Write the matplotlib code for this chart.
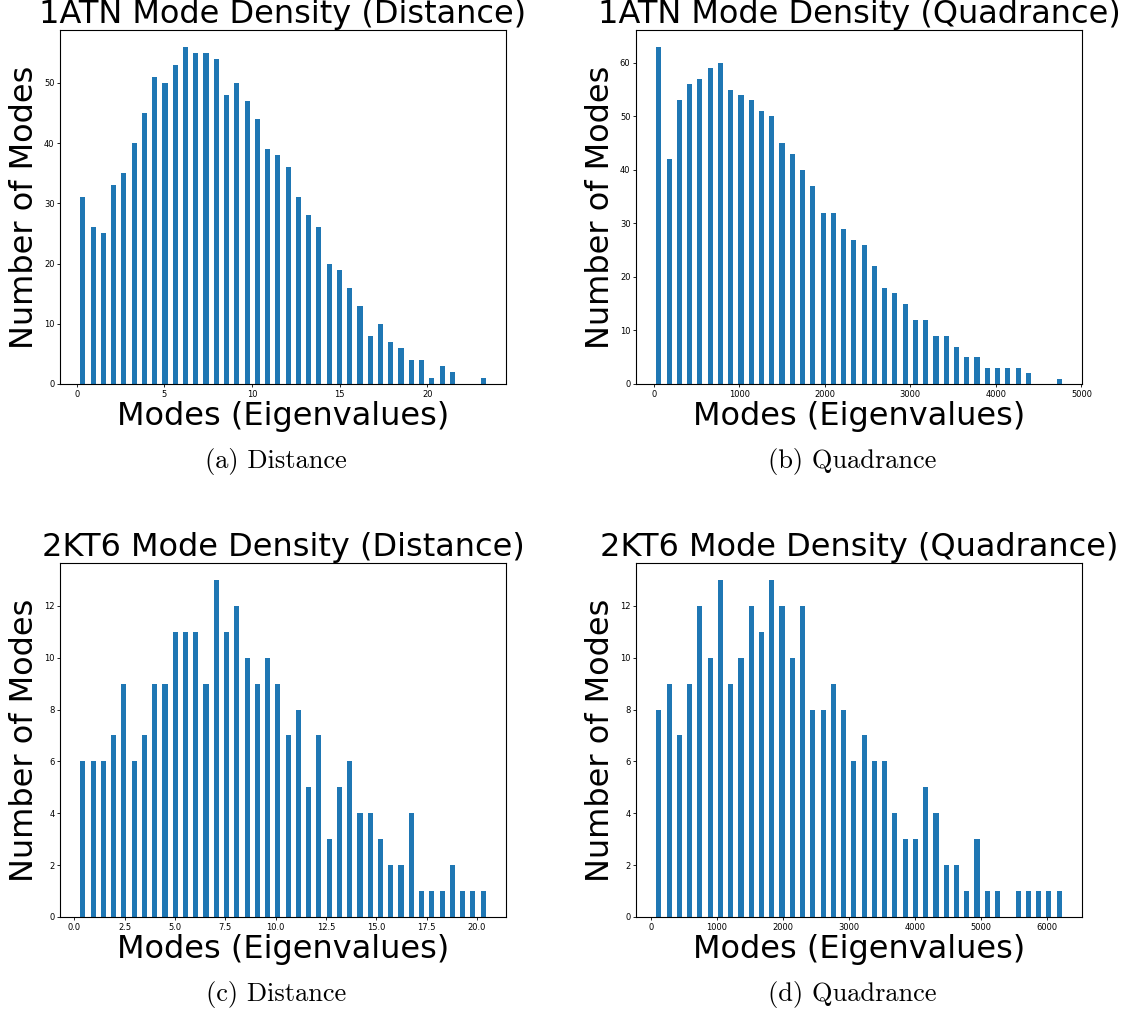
import numpy as np
import matplotlib
matplotlib.use("Agg")
import matplotlib.pyplot as plt

# ---- data ----
titles = ["1ATN Mode Density (Distance)", "1ATN Mode Density (Quadrance)",
          "2KT6 Mode Density (Distance)", "2KT6 Mode Density (Quadrance)"]
captions = ["(a) Distance", "(b) Quadrance", "(c) Distance", "(d) Quadrance"]

counts_1atn_dist = [31, 26, 25, 33, 35, 40, 45, 51, 50, 53, 56, 55, 55, 54, 48, 50, 47, 44, 39, 38,
                    36, 31, 28, 26, 20, 19, 16, 13, 8, 10, 7, 6, 4, 4, 1, 3, 2, 0, 0, 1]
range_1atn_dist = (0.06, 23.48)

counts_1atn_quad = [63, 42, 53, 56, 57, 59, 60, 55, 54, 53, 51, 50, 45, 43, 40, 37, 32, 32, 29, 27,
                    26, 22, 18, 17, 15, 12, 12, 9, 9, 7, 5, 5, 3, 3, 3, 3, 2, 0, 0, 1]
range_1atn_quad = (0.0, 4800.0)

counts_2kt6_dist = [6, 6, 6, 7, 9, 6, 7, 9, 9, 11, 11, 11, 9, 13, 11, 12, 10, 9, 10, 9,
                    7, 8, 5, 7, 3, 5, 6, 4, 4, 3, 2, 2, 4, 1, 1, 1, 2, 1, 1, 1]
range_2kt6_dist = (0.17, 20.57)

counts_2kt6_quad = [8, 9, 7, 9, 12, 10, 13, 9, 10, 12, 11, 13, 12, 10, 12, 8, 8, 9, 8, 6,
                    7, 6, 6, 4, 3, 3, 5, 4, 2, 2, 1, 3, 1, 1, 0, 1, 1, 1, 1, 1]
range_2kt6_quad = (41.0, 6261.0)

all_counts = [counts_1atn_dist, counts_1atn_quad, counts_2kt6_dist, counts_2kt6_quad]
all_ranges = [range_1atn_dist, range_1atn_quad, range_2kt6_dist, range_2kt6_quad]
n_bins = 40

xlabel = "Modes (Eigenvalues)"
ylabel = "Number of Modes"

# ---- layout (pixels in a 1128x1014 figure) ----
W, H = 1128, 1014
fig = plt.figure(figsize=(W / 100, H / 100), dpi=100)

axes_px = [(60, 30, 506, 384), (636, 30, 1082, 384),
           (60, 563, 506, 917), (636, 563, 1082, 917)]
caption_px = [(276, 468), (852, 468), (276, 1001), (852, 1001)]

for i in range(4):
    x0, y0, x1, y1 = axes_px[i]
    ax = fig.add_axes([x0 / W, 1 - y1 / H, (x1 - x0) / W, (y1 - y0) / H])
    lo, hi = all_ranges[i]
    edges = np.linspace(lo, hi, n_bins + 1)
    ax.hist(edges[:-1], bins=edges, weights=all_counts[i], rwidth=0.5, color="#1f77b4")
    ax.set_title(titles[i], fontsize=23, pad=2.5)
    ax.set_xlabel(xlabel, fontsize=23, labelpad=2)
    ax.set_ylabel(ylabel, fontsize=23, labelpad=3)
    ax.tick_params(labelsize=6, length=2.2, width=0.6, pad=1.8)
    for s in ax.spines.values():
        s.set_linewidth(0.8)
    cx, cy = caption_px[i]
    fig.text(cx / W, 1 - cy / H, captions[i], ha="center", va="baseline",
             family="cmr10", fontsize=19)

fig.savefig("out.png", dpi=100)
